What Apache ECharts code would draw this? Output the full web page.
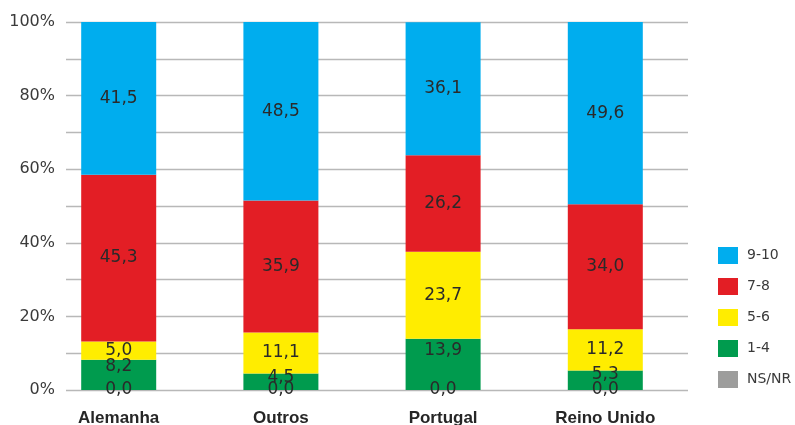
<!DOCTYPE html>
<html>
<head>
<meta charset="utf-8">
<script src="https://cdn.jsdelivr.net/npm/echarts@6/dist/echarts.min.js"></script>
<style>
  html, body { margin: 0; padding: 0; background: #ffffff; }
  #chart { width: 795px; height: 425px; }
</style>
</head>
<body>
<div id="chart"></div>
<script>
// Categories (countries) and rating bands, stacked to 100 %
const categories = ['Alemanha', 'Outros', 'Portugal', 'Reino Unido'];
const nsnr   = [0.0, 0.0, 0.0, 0.0];
const band14 = [8.2, 4.5, 13.9, 5.3];
const band56 = [5.0, 11.1, 23.7, 11.2];
const band78 = [45.3, 35.9, 26.2, 34.0];
const band910 = [41.5, 48.5, 36.1, 49.6];
const yTicks = [0, 20, 40, 60, 80, 100];

const colors = {
  'NS/NR': '#9d9d9c',
  '1-4': '#009b4e',
  '5-6': '#ffed00',
  '7-8': '#e31e25',
  '9-10': '#00adee'
};

const fmt = p => p.value.toFixed(1).replace('.', ',');
const labelFont = 'DejaVu Sans';

function bandSeries(name, data, labelPos) {
  return {
    name: name,
    type: 'bar',
    stack: 'total',
    xAxisIndex: 1,
    yAxisIndex: 1,
    barWidth: 75,
    data: data,
    itemStyle: { color: colors[name] },
    label: {
      show: true,
      position: labelPos || 'inside',
      align: 'center',
      verticalAlign: 'middle',
      formatter: fmt,
      color: '#2a2a2a',
      fontFamily: labelFont,
      fontSize: 17
    },
    emphasis: { disabled: true }
  };
}

const chart = echarts.init(document.getElementById('chart'), null, { renderer: 'canvas' });
chart.setOption({
  animation: false,
  backgroundColor: '#ffffff',
  grid: [
    // gridlines and percentage scale
    { left: 66, right: 107, top: 22, bottom: 35, containLabel: false, outerBoundsMode: 'none' },
    // bars
    { left: 37.6, right: 108.6, top: 22, bottom: 35, containLabel: false, outerBoundsMode: 'none' }
  ],
  legend: {
    orient: 'vertical',
    left: 718,
    top: 247,
    padding: 0,
    itemWidth: 20,
    itemHeight: 17,
    itemGap: 14,
    icon: 'rect',
    data: ['9-10', '7-8', '5-6', '1-4', 'NS/NR'],
    textStyle: { fontFamily: labelFont, fontSize: 14, color: '#3a3a3a', padding: [0, 0, 0, 4] }
  },
  xAxis: [
    { gridIndex: 0, type: 'value', show: false, min: 0, max: 1 },
    {
      gridIndex: 1,
      type: 'category',
      data: categories,
      axisLine: { show: false },
      axisTick: { show: false },
      axisLabel: {
        margin: 20,
        fontFamily: 'Liberation Sans',
        fontWeight: 'bold',
        fontSize: 17,
        color: '#262626'
      }
    }
  ],
  yAxis: [
    {
      gridIndex: 0,
      type: 'value',
      min: 0,
      max: 100,
      interval: 10,
      axisLine: { show: false },
      axisTick: { show: false },
      splitLine: { lineStyle: { color: '#b8b8b8', width: 1.3 } },
      axisLabel: {
        margin: 11,
        fontFamily: labelFont,
        fontSize: 16,
        color: '#3a3a3a',
        formatter: v => (yTicks.indexOf(v) >= 0 ? v + '%' : '')
      }
    },
    { gridIndex: 1, type: 'value', min: 0, max: 100, show: false }
  ],
  series: [
    bandSeries('NS/NR', nsnr),
    bandSeries('1-4', band14, ['50%', '23%']),
    bandSeries('5-6', band56),
    bandSeries('7-8', band78),
    bandSeries('9-10', band910)
  ]
});
</script>
</body>
</html>
